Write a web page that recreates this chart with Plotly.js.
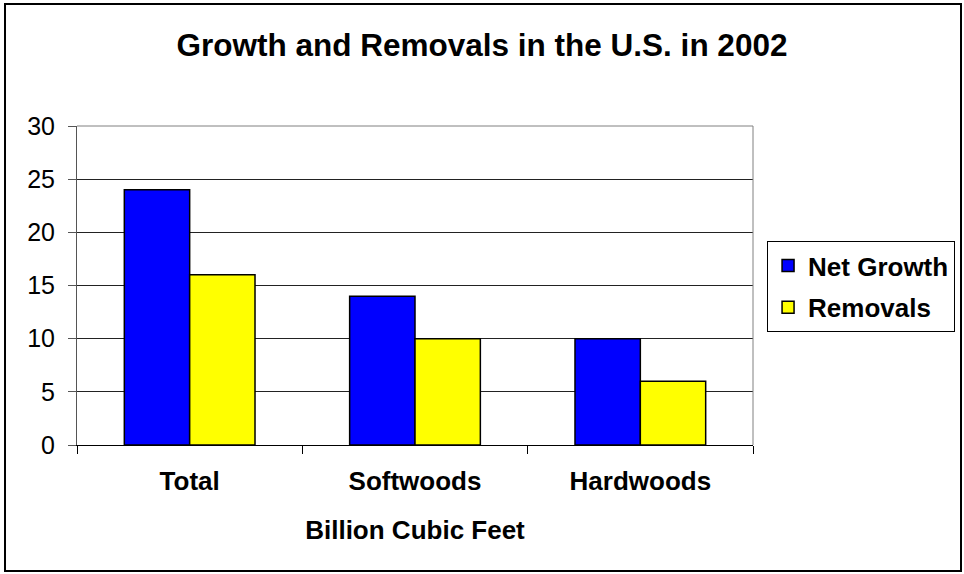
<!DOCTYPE html>
<html>
<head>
<meta charset="utf-8">
<script src="https://cdn.plot.ly/plotly-3.0.1.min.js"></script>
<style>html,body{margin:0;padding:0;background:#fff;}#chart{width:964px;height:574px;}</style>
</head>
<body>
<div id="chart"></div>
<script>
const categories = ["Total", "Softwoods", "Hardwoods"];
const netGrowth = [24, 14, 10];
const removals = [16, 10, 6];
const seriesNames = ["Net Growth", "Removals"];
const yTicks = [0, 5, 10, 15, 20, 25, 30];

const FONT = "Liberation Sans, Arial, sans-serif";
const catLabels = categories.map(c => "<b>" + c + "</b>");

const traces = [
  {type: "bar", name: "<b>" + seriesNames[0] + "</b>", legendgroup: "g1", x: catLabels, y: netGrowth,
   marker: {color: "#0000FF", line: {color: "#000000", width: 1.5}}},
  {type: "bar", name: "<b>" + seriesNames[1] + "</b>", legendgroup: "g2", x: catLabels, y: removals,
   marker: {color: "#FFFF00", line: {color: "#000000", width: 1.5}}}
];

const layout = {
  width: 964, height: 574,
  margin: {l: 77, r: 211, t: 126, b: 129},
  paper_bgcolor: "#ffffff", plot_bgcolor: "#ffffff",
  font: {family: FONT, color: "#000000", size: 26},
  barmode: "group", bargap: 0.42, bargroupgap: 0,
  title: {text: "<b>Growth and Removals in the U.S. in 2002</b>", x: 0.5, xanchor: "center",
          y: 0.921, yanchor: "middle", font: {family: FONT, size: 31.5, color: "#000"}},
  xaxis: {
    type: "category", tickson: "boundaries", ticks: "outside", ticklen: 8, tickcolor: "#000",
    showline: true, linecolor: "#000", linewidth: 1, mirror: false,
    tickfont: {family: FONT, size: 26}, ticklabelstandoff: 13,
    title: {text: "<b>Billion Cubic Feet</b>", font: {family: FONT, size: 26}, standoff: 25},
    showgrid: false, fixedrange: true
  },
  yaxis: {
    range: [0, 30], tickvals: yTicks, ticktext: yTicks.map(String),
    ticks: "outside", ticklen: 8, tickcolor: "#555",
    showline: true, linecolor: "#555", linewidth: 1,
    showgrid: true, gridcolor: "#222", gridwidth: 1, zeroline: false,
    tickfont: {family: FONT, size: 25}, ticklabelstandoff: 8, fixedrange: true
  },
  legend: {
    xref: "container", yref: "container",
    x: 0.7957, y: 0.5801, xanchor: "left", yanchor: "top",
    bordercolor: "#000", borderwidth: 1, bgcolor: "#fff",
    font: {family: FONT, size: 26}, tracegroupgap: 5, itemwidth: 30, traceorder: "grouped"
  },
  shapes: [
    {type: "line", xref: "paper", yref: "paper", x0: 0, x1: 1, y0: 1, y1: 1, line: {color: "#808080", width: 1}},
    {type: "line", xref: "paper", yref: "paper", x0: 1, x1: 1, y0: 0, y1: 1, line: {color: "#808080", width: 1}},
    {type: "rect", xref: "paper", yref: "paper", x0: -0.1065, x1: 1.3077, y0: -0.395, y1: 1.3824,
     line: {color: "#000", width: 2}, fillcolor: "rgba(0,0,0,0)", layer: "above"}
  ]
};

Plotly.newPlot("chart", traces, layout, {displayModeBar: false, staticPlot: true});
</script>
</body>
</html>
